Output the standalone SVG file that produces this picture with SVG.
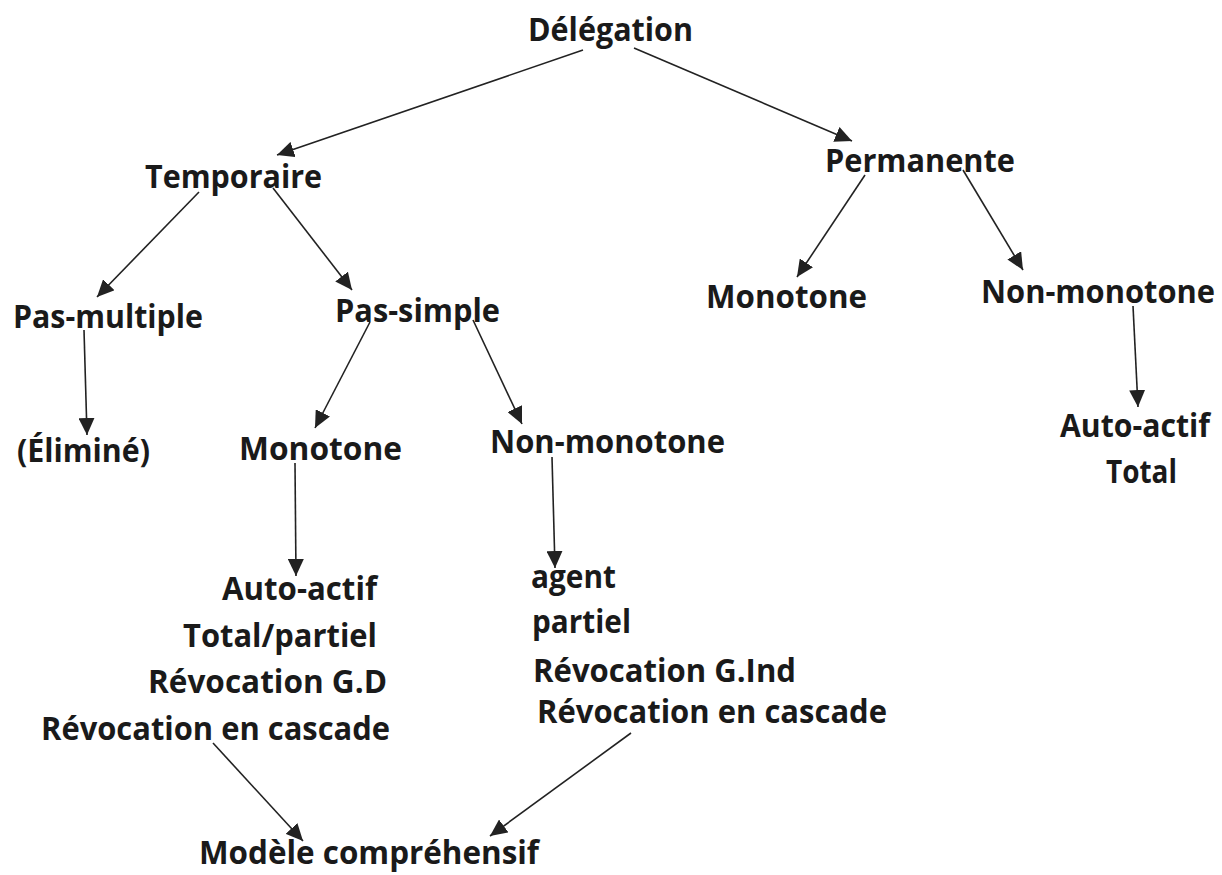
<svg xmlns="http://www.w3.org/2000/svg" width="1222" height="875" viewBox="0 0 1222 875">
  <defs>
    <style>
      .lbl { font-family: "Open Sans", "Noto Sans", "Liberation Sans", sans-serif; font-weight: 700; font-size: 32px; fill: #1a1a1a; }
      .edge { stroke: #222; stroke-width: 1.6; fill: none; marker-end: url(#head); }
    </style>
    <marker id="head" markerUnits="userSpaceOnUse" markerWidth="18" markerHeight="16" refX="17" refY="8" orient="auto">
      <path d="M0,0 L17,8 L0,16 z" fill="#222"/>
    </marker>
  </defs>
  <rect width="1222" height="875" fill="#fff"/>

  <!-- connectors -->
  <g id="connectors">
    <line class="edge" x1="583" y1="50" x2="277" y2="155"/>
    <line class="edge" x1="634" y1="48" x2="852" y2="141"/>
    <line class="edge" x1="199" y1="192" x2="97" y2="297"/>
    <line class="edge" x1="273" y1="188" x2="352" y2="290"/>
    <line class="edge" x1="84" y1="330" x2="87" y2="435"/>
    <line class="edge" x1="370" y1="322" x2="315" y2="428"/>
    <line class="edge" x1="473" y1="320" x2="522" y2="424"/>
    <line class="edge" x1="295" y1="463" x2="296" y2="576"/>
    <line class="edge" x1="552" y1="457" x2="555" y2="568"/>
    <line class="edge" x1="865" y1="175" x2="797" y2="277"/>
    <line class="edge" x1="963" y1="170" x2="1023" y2="270"/>
    <line class="edge" x1="1133" y1="306" x2="1138" y2="407"/>
    <line class="edge" x1="213" y1="743" x2="303" y2="841"/>
    <line class="edge" x1="631" y1="733" x2="490" y2="836"/>
  </g>

  <!-- nodes -->
  <g id="delegation"><text class="lbl" x="528" y="41" textLength="165" lengthAdjust="spacingAndGlyphs">Délégation</text></g>
  <g id="temporaire"><text class="lbl" x="145" y="188" textLength="177" lengthAdjust="spacingAndGlyphs">Temporaire</text></g>
  <g id="permanente"><text class="lbl" x="825" y="172" textLength="190" lengthAdjust="spacingAndGlyphs">Permanente</text></g>
  <g id="pas-multiple"><text class="lbl" x="13" y="328" textLength="190" lengthAdjust="spacingAndGlyphs">Pas-multiple</text></g>
  <g id="pas-simple"><text class="lbl" x="335" y="322" textLength="165" lengthAdjust="spacingAndGlyphs">Pas-simple</text></g>
  <g id="elimine"><text class="lbl" x="17" y="462" textLength="133" lengthAdjust="spacingAndGlyphs">(Éliminé)</text></g>
  <g id="monotone-temp"><text class="lbl" x="239" y="460" textLength="163" lengthAdjust="spacingAndGlyphs">Monotone</text></g>
  <g id="non-monotone-temp"><text class="lbl" x="490" y="453" textLength="235" lengthAdjust="spacingAndGlyphs">Non-monotone</text></g>
  <g id="monotone-perm"><text class="lbl" x="706" y="308" textLength="161" lengthAdjust="spacingAndGlyphs">Monotone</text></g>
  <g id="non-monotone-perm"><text class="lbl" x="981" y="303" textLength="234" lengthAdjust="spacingAndGlyphs">Non-monotone</text></g>

  <g id="perm-props">
    <text class="lbl" x="1060" y="437" textLength="150" lengthAdjust="spacingAndGlyphs">Auto-actif</text>
    <text class="lbl" x="1106" y="483" textLength="71" lengthAdjust="spacingAndGlyphs">Total</text>
  </g>

  <g id="monotone-props">
    <text class="lbl" x="222" y="600" textLength="155" lengthAdjust="spacingAndGlyphs">Auto-actif</text>
    <text class="lbl" x="183" y="647" textLength="194" lengthAdjust="spacingAndGlyphs">Total/partiel</text>
    <text class="lbl" x="148" y="693" textLength="239" lengthAdjust="spacingAndGlyphs">Révocation G.D</text>
    <text class="lbl" x="41" y="740" textLength="349" lengthAdjust="spacingAndGlyphs">Révocation en cascade</text>
  </g>

  <g id="non-monotone-props">
    <text class="lbl" x="531" y="588" textLength="85" lengthAdjust="spacingAndGlyphs">agent</text>
    <text class="lbl" x="532" y="633" textLength="99" lengthAdjust="spacingAndGlyphs">partiel</text>
    <text class="lbl" x="533" y="682" textLength="263" lengthAdjust="spacingAndGlyphs">Révocation G.Ind</text>
    <text class="lbl" x="537" y="723" textLength="350" lengthAdjust="spacingAndGlyphs">Révocation en cascade</text>
  </g>

  <g id="modele"><text class="lbl" x="199" y="864" textLength="340" lengthAdjust="spacingAndGlyphs">Modèle compréhensif</text></g>
</svg>
